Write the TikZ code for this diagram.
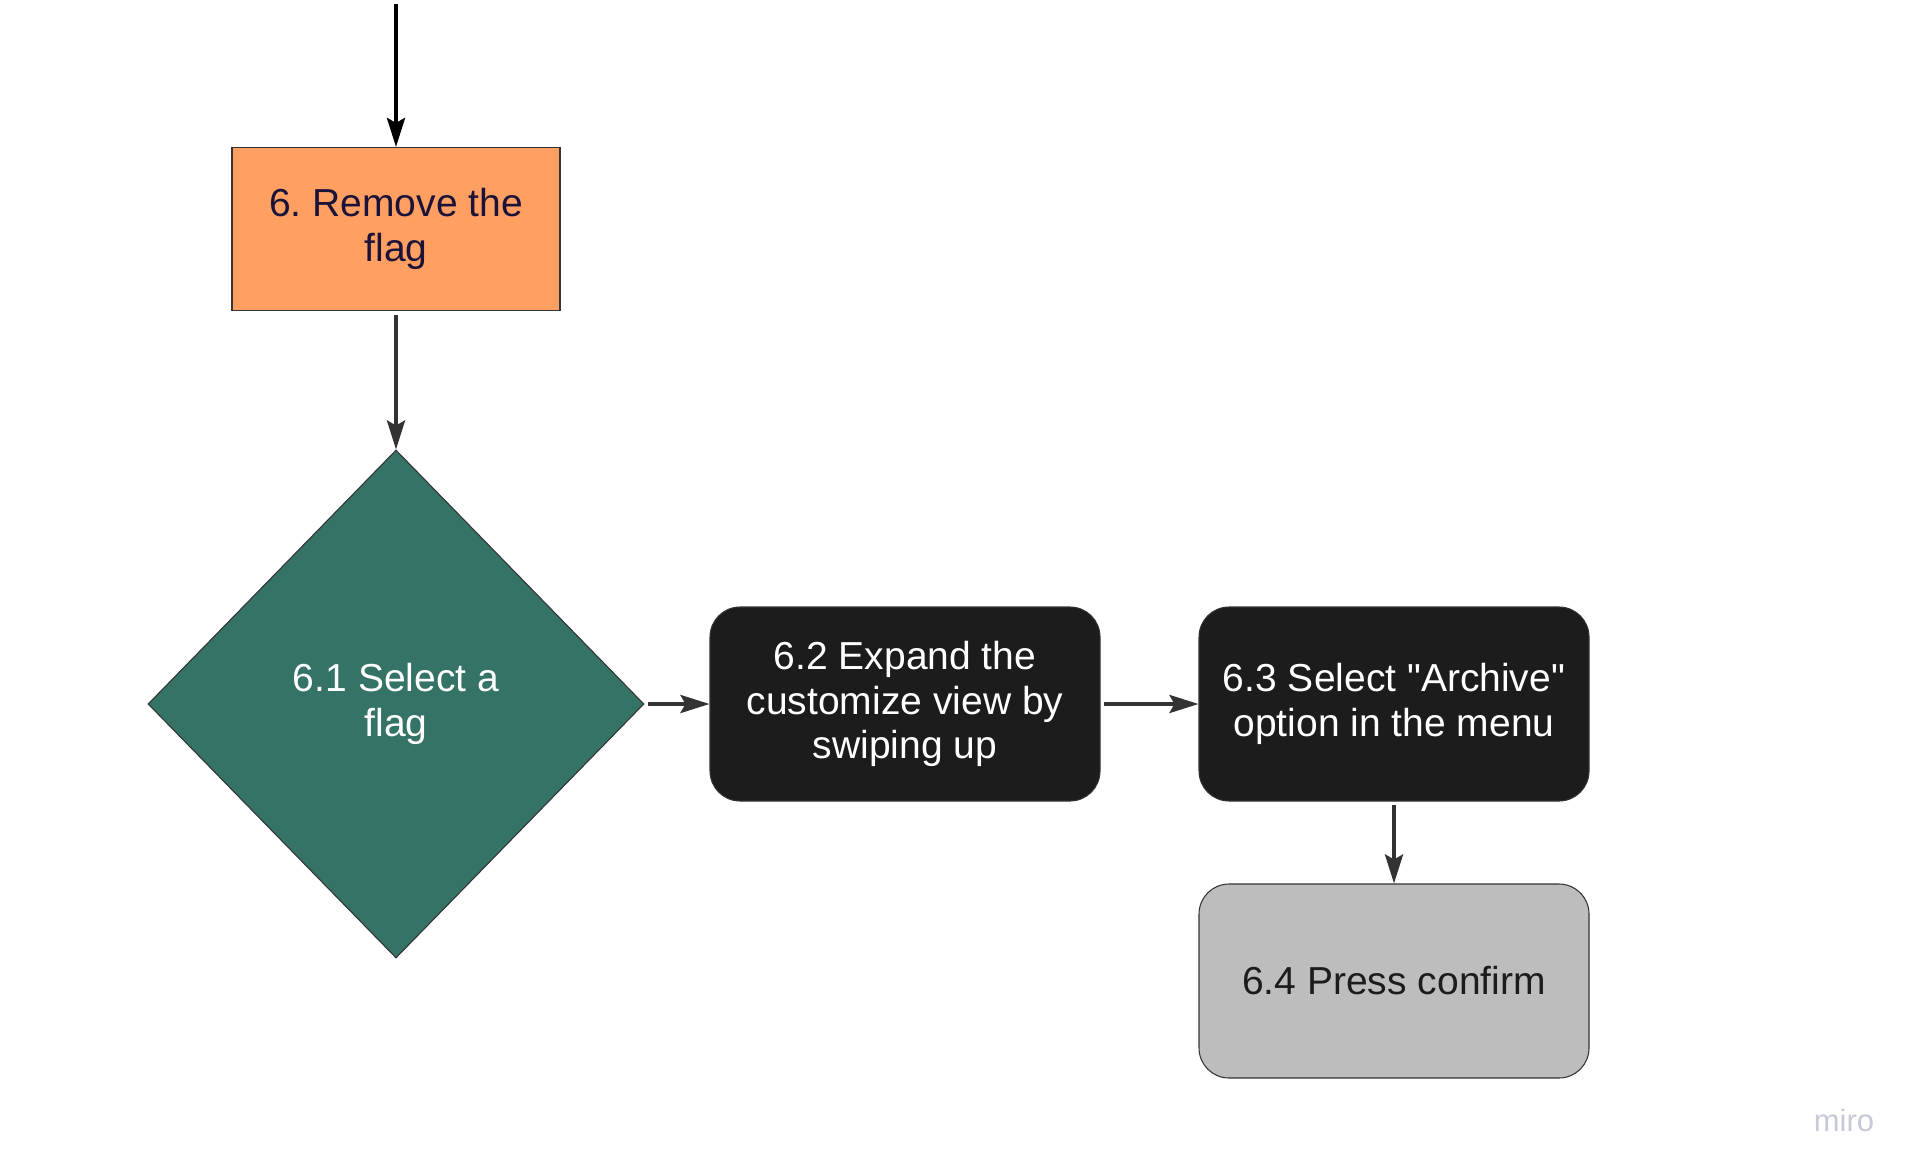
\documentclass[tikz,border=0pt]{standalone}
\usepackage{fontspec}
\setmainfont{Liberation Sans}[Ligatures=TeXOff]
\usetikzlibrary{shapes.geometric,arrows.meta}
\definecolor{flagorange}{HTML}{FFA062}
\definecolor{flagink}{HTML}{1A1238}
\definecolor{selectgreen}{HTML}{347365}
\definecolor{nearblack}{HTML}{1C1C1C}
\definecolor{confirmgrey}{HTML}{BDBDBD}
\definecolor{linkgrey}{HTML}{333333}
\definecolor{miroblue}{HTML}{C6C9D6}
\frenchspacing
\begin{document}
\begin{tikzpicture}[
	every node/.style={font=\fontsize{11.1}{12.6}\selectfont, align=center},
	card/.style={rectangle, rounded corners=3mm, minimum width=3.9cm, minimum height=1.94cm, draw=linkgrey, line width=0.3pt},
	link/.style={-{Stealth[length=2.9mm,width=1.8mm,inset=0.5mm]}, linkgrey, line width=1.1pt, shorten <=1pt}]
	\useasboundingbox (0,0) rectangle (19.2,11.71);
	\coordinate (in) at (3.96,11.71);
	\node[draw=black!80, line width=0.3pt, fill=flagorange, text=flagink, minimum width=3.28cm, minimum height=1.63cm] (flag) at (3.96,9.42) {6. Remove the\\flag};
	\node[diamond, draw=black!80, line width=0.3pt, fill=selectgreen, text=white, inner sep=0pt, minimum width=4.96cm, minimum height=5.08cm] (select) at (3.96,4.67) {6.1 Select a\\flag};
	\node[card, fill=nearblack, text=white] (expand) at (9.05,4.67) {6.2 Expand the\\customize view by\\swiping up};
	\node[card, fill=nearblack, text=white] (archive) at (13.94,4.67) {6.3 Select "Archive"\\option in the menu};
	\node[card, fill=confirmgrey, text=nearblack] (confirm) at (13.94,1.90) {6.4 Press confirm};
	\node[text=miroblue, font=\fontsize{8.8}{10}\selectfont] (miro) at (18.44,0.51) {miro};
	\draw[link, black] (in) -- (flag);
	\foreach \a/\b in {flag/select, select/expand, expand/archive, archive/confirm}
		\draw[link] (\a) -- (\b);
\end{tikzpicture}
\end{document}
